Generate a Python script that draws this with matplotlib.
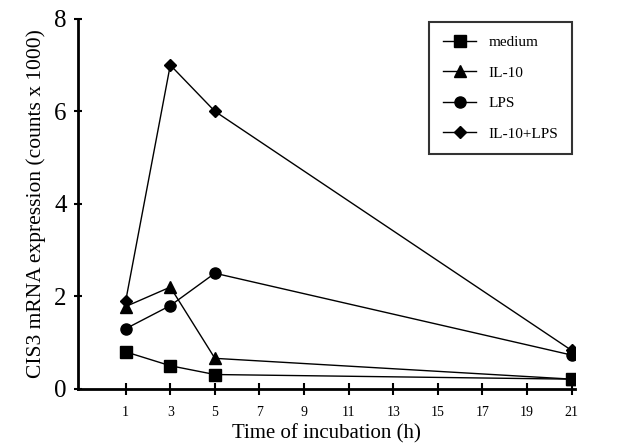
import matplotlib
matplotlib.use('Agg')
import matplotlib.pyplot as plt

# time points (h) and CIS3 mRNA counts (x1000)
hours = [1, 3, 5, 21]
medium = [0.8, 0.5, 0.31, 0.21]
il10 = [1.78, 2.2, 0.66, 0.21]
lps = [1.3, 1.8, 2.5, 0.73]
il10_lps = [1.9, 7.0, 6.0, 0.83]

series_names = ['medium', 'IL-10', 'LPS', 'IL-10+LPS']
xticks = list(range(1, 22, 2))
yticks = [0, 2, 4, 6, 8]

plt.rcParams['font.family'] = ['Liberation Serif', 'DejaVu Serif']

fig = plt.figure(figsize=(6.17, 4.48), dpi=100, facecolor='w')
ax = fig.add_axes([0.126, 0.132, 0.806, 0.826])

ax.plot(hours, medium, '-s', color='k', lw=1, ms=8, label=series_names[0])
ax.plot(hours, il10, '-^', color='k', lw=1, ms=8, label=series_names[1])
ax.plot(hours, lps, '-o', color='k', lw=1, ms=8, label=series_names[2])
ax.plot(hours, il10_lps, '-D', color='k', lw=1, ms=6.5, label=series_names[3])

ax.set_xlim(-1.15, 21.15)
ax.set_ylim(0, 8)
ax.set_xticks(xticks)
ax.set_xticklabels([str(t) for t in xticks], fontsize=10)
ax.set_yticks(yticks)
ax.set_yticklabels([str(t) for t in yticks], fontsize=18)

for side in ['top', 'right']:
    ax.spines[side].set_visible(False)
for side in ['left', 'bottom']:
    ax.spines[side].set_linewidth(2)

ax.tick_params(axis='x', direction='inout', length=8, width=1.5, pad=8)
ax.tick_params(axis='y', direction='inout', length=6, width=1.5, pad=5)

ax.set_xlabel('Time of incubation (h)', fontsize=15, labelpad=4)
ax.set_ylabel('CIS3 mRNA expression (counts x 1000)', fontsize=15.5, labelpad=6)

leg = ax.legend(loc='upper right', bbox_to_anchor=(0.994, 0.992), borderaxespad=0,
                fontsize=11, frameon=True, fancybox=False, edgecolor='k',
                handlelength=2.2, labelspacing=1.1, borderpad=0.9, handletextpad=0.8)
leg.get_frame().set_linewidth(1.5)

plt.savefig('out.png', dpi=100)
plt.close()
